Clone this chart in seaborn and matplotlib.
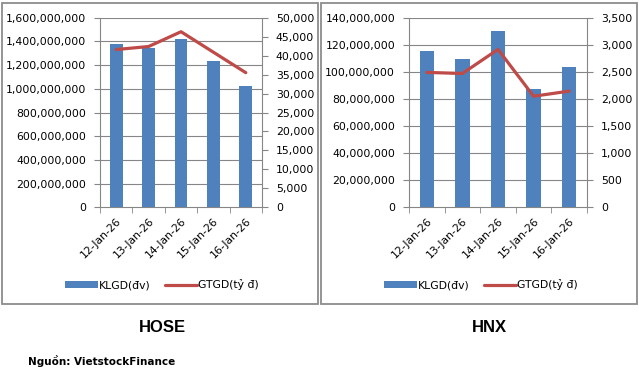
import numpy as np
import pandas as pd
import matplotlib
matplotlib.use("Agg")
import matplotlib.pyplot as plt
from matplotlib.patches import Rectangle, Patch
from matplotlib.lines import Line2D
from matplotlib.ticker import FuncFormatter, MultipleLocator, FixedLocator
import seaborn as sns

dates = ["12-Jan-26", "13-Jan-26", "14-Jan-26", "15-Jan-26", "16-Jan-26"]
hose_klgd = [1380e6, 1344e6, 1420e6, 1235e6, 1024e6]
hose_gtgd = [41600, 42400, 46300, 40900, 35500]
hnx_klgd = [115.4e6, 109.5e6, 130.2e6, 87.4e6, 103.6e6]
hnx_gtgd = [2490, 2470, 2915, 2050, 2145]
titles = ["HOSE", "HNX"]
legend_labels = ["KLGD(đv)", "GTGD(tỷ đ)"]
source = "Nguồn: VietstockFinance"

sns.set_style("white")
plt.rcParams["font.family"] = ["DejaVu Sans"]
plt.rcParams["text.color"] = "black"
plt.rcParams["xtick.labelcolor"] = "black"
plt.rcParams["ytick.labelcolor"] = "black"

BAR = "#4F81BD"
LINE = "#BE4B48"
GRID = "#868686"
W, H = 639, 373

fig = plt.figure(figsize=(W / 100, H / 100), dpi=100)

def px(x0, y0, x1, y1):
    return [x0 / W, 1 - y1 / H, (x1 - x0) / W, (y1 - y0) / H]

panels = [
    dict(rect=px(100, 17.7, 262, 207.3), vol=hose_klgd, val=hose_gtgd,
         lmax=1.6e9, lstep=2e8, rmax=50000, rstep=5000,
         box=(2, 3, 318, 304), legx=162, title=titles[0], tx=162, ty=328),
    dict(rect=px(409, 17.7, 587, 207.3), vol=hnx_klgd, val=hnx_gtgd,
         lmax=1.4e8, lstep=2e7, rmax=3500, rstep=500,
         box=(321, 3, 637, 304), legx=481, title=titles[1], tx=489, ty=327),
]

fmt = FuncFormatter(lambda v, p: f"{v:,.0f}")

for p in panels:
    ax = fig.add_axes(p["rect"])
    df = pd.DataFrame({"date": dates, "vol": p["vol"], "val": p["val"], "i": np.arange(len(dates))})
    ax.set_ylim(0, p["lmax"])
    for yv in np.arange(p["lstep"], p["lmax"] + 1, p["lstep"]):
        ax.axhline(yv, color=GRID, lw=0.8, zorder=0.5)
    sns.barplot(data=df, x="date", y="vol", ax=ax, color=BAR, width=0.4,
                saturation=1, edgecolor="none", linewidth=0)
    for bar in ax.patches:
        bar.set_zorder(3)
    ax.set_ylim(0, p["lmax"])
    ax.yaxis.set_major_locator(MultipleLocator(p["lstep"]))
    ax.yaxis.set_major_formatter(fmt)
    ax.grid(False)
    ax.set_xlabel("")
    ax.set_ylabel("")
    ax2 = ax.twinx()
    sns.lineplot(data=df, x="i", y="val", ax=ax2, color=LINE, lw=2.3)
    ax2.set_ylim(0, p["rmax"])
    ax2.yaxis.set_major_locator(MultipleLocator(p["rstep"]))
    ax2.yaxis.set_major_formatter(fmt)
    ax2.grid(False)
    ax2.set_ylabel("")
    ax2.set_xlabel("")
    ax.set_xlim(-0.5, len(dates) - 0.5)
    ax.set_xticks(np.arange(len(dates)))
    ax.set_xticklabels(dates, rotation=45, ha="right", rotation_mode="anchor", fontsize=7.8)
    ax.xaxis.set_minor_locator(FixedLocator(np.arange(len(dates) + 1) - 0.5))
    ax.tick_params(axis="x", which="major", length=0, pad=6)
    ax.tick_params(axis="x", which="minor", length=4, color=GRID, direction="out", bottom=True)
    ax.tick_params(axis="y", length=4, color=GRID, direction="out", left=True, labelsize=7.8, pad=6)
    ax2.tick_params(axis="y", length=4, color=GRID, direction="out", right=True, labelsize=7.8, pad=6)
    for a in (ax, ax2):
        a.spines["top"].set_visible(False)
        for s in ("left", "right", "bottom"):
            a.spines[s].set_color(GRID)
            a.spines[s].set_linewidth(0.8)
    ax.spines["right"].set_visible(False)
    ax2.spines["left"].set_visible(False)
    ax2.spines["bottom"].set_visible(False)

    handles = [Patch(facecolor=BAR, edgecolor="none"), Line2D([], [], color=LINE, lw=2.3)]
    fig.legend(handles, legend_labels, loc="center", ncol=2, frameon=False,
               bbox_to_anchor=(p["legx"] / W, 1 - 285 / H), fontsize=7.8,
               handlelength=3.0, handleheight=0.6, handletextpad=0.1, columnspacing=1.3)

    x0, y0, x1, y1 = p["box"]
    fig.patches.append(Rectangle((x0 / W, 1 - y1 / H), (x1 - x0) / W, (y1 - y0) / H,
                                 transform=fig.transFigure, fill=False,
                                 edgecolor="#8C8C8C", lw=1.3))
    fig.text(p["tx"] / W, 1 - p["ty"] / H, p["title"], ha="center", va="center",
             fontsize=12, family=["Liberation Sans", "DejaVu Sans"], fontweight="bold")

fig.text(28 / W, 1 - 361 / H, source, ha="left", va="center", fontsize=7.5, fontweight="bold")

fig.savefig("out.png", dpi=100)
